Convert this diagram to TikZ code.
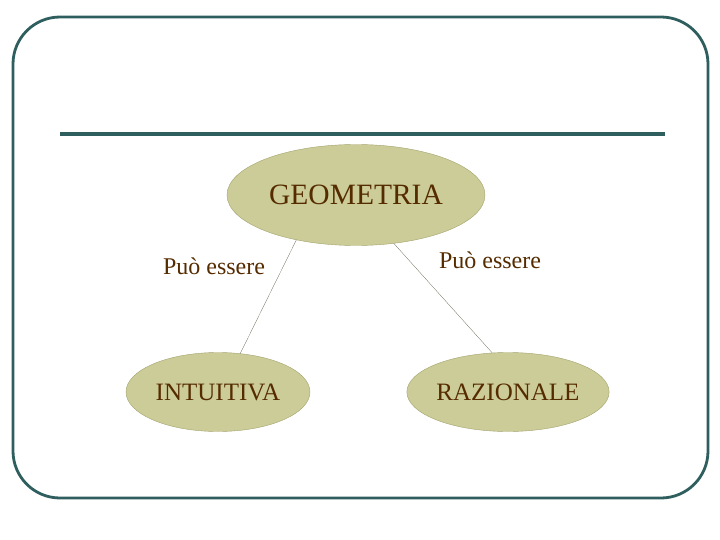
\documentclass[tikz,border=0pt]{standalone}
\usepackage{fontspec}
\setmainfont{Liberation Serif}
\usetikzlibrary{shapes.geometric}
\usetikzlibrary{positioning}
\definecolor{frameteal}{HTML}{2F5E5E}
\definecolor{khaki}{HTML}{CCCC99}
\definecolor{khakiline}{HTML}{A3A36E}
\definecolor{brownink}{HTML}{552B00}

\begin{document}
\begin{tikzpicture}[x=1pt,y=-1pt,
  concept/.style={ellipse,draw=khakiline,fill=khaki,inner sep=0pt,text=brownink},
  link/.style={draw=black!55!khakiline,very thin},
  linklabel/.style={inner sep=0pt,text=brownink,font=\fontsize{24}{26}\selectfont}]
\useasboundingbox (0,0) rectangle (720,540);
\draw[frameteal,line width=2.8pt,rounded corners=47pt] (13,17) rectangle (708,498);
\draw[frameteal,line width=3.5pt] (60,134) -- (665,134);

\node[concept,minimum width=258pt,minimum height=101pt,font=\fontsize{29.5}{32}\selectfont] (geo) at (356,195) {GEOMETRIA};
\node[concept,minimum width=184pt,minimum height=79pt,font=\fontsize{25}{27}\selectfont] (intu) at (218,392) {INTUITIVA};
\node[concept,minimum width=200pt,minimum height=79pt,font=\fontsize{25}{27}\selectfont] (razio) at (508,392) {RAZIONALE};

\node[linklabel] (puoA) at (214,266) {Può essere};
\node[linklabel] (puoB) at (490,260) {Può essere};

\draw[link] (geo.217) -- (intu.60);
\draw[link] (geo.308) -- (razio.112);
\end{tikzpicture}
\end{document}
